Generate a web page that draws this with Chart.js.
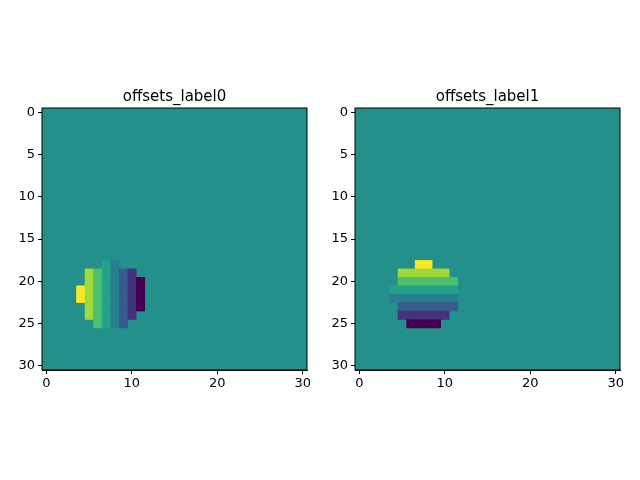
<!DOCTYPE html>
<html>
<head>
<meta charset="utf-8">
<script src="https://cdn.jsdelivr.net/npm/chart.js@4/dist/chart.umd.min.js"></script>
<style>
  body { margin: 0; background: #fff; }
  .box { position: absolute; top: 0; width: 320px; height: 480px; }
</style>
</head>
<body>
<div class="box" style="left:0"><canvas id="c0"></canvas></div>
<div class="box" style="left:320px"><canvas id="c1"></canvas></div>
<script>
// grid is 31 x 31, background value 0
const gridSize = 31;
const titles = ["offsets_label0", "offsets_label1"];
const xTicks = [0, 10, 20, 30];
const yTicks = [0, 5, 10, 15, 20, 25, 30];

// left panel: vertical strips (column, first row, last row, value)
const leftCols = [4, 5, 6, 7, 8, 9, 10, 11];
const leftRowFrom = [21, 19, 19, 18, 18, 19, 19, 20];
const leftRowTo = [22, 24, 25, 25, 25, 25, 24, 23];
const leftValues = [3.5, 2.5, 1.5, 0.5, -0.5, -1.5, -2.5, -3.5];

// right panel: horizontal strips (row, first col, last col, value)
const rightRows = [18, 19, 20, 21, 22, 23, 24, 25];
const rightColFrom = [7, 5, 5, 4, 4, 5, 5, 6];
const rightColTo = [8, 10, 11, 11, 11, 11, 10, 9];
const rightValues = [3.5, 2.5, 1.5, 0.5, -0.5, -1.5, -2.5, -3.5];

const vMin = -3.5, vMax = 3.5;

const VIRIDIS = [
    [68, 1, 84], [72, 40, 120], [62, 74, 137], [49, 104, 142], [38, 130, 142],
    [31, 158, 137], [53, 183, 121], [109, 205, 89], [180, 222, 44], [253, 231, 37]
];
function viridis(v) {
    let t = (v - vMin) / (vMax - vMin);
    t = Math.max(0, Math.min(1, t)) * (VIRIDIS.length - 1);
    const i = Math.min(Math.floor(t), VIRIDIS.length - 2), f = t - i;
    const a = VIRIDIS[i], b = VIRIDIS[i + 1];
    return 'rgb(' + a.map((c, k) => Math.round(c + (b[k] - c) * f)).join(',') + ')';
}

function buildCells(panel) {
    const cells = [];
    if (panel == 0) {
        leftCols.forEach((x, i) => {
            for (let y = leftRowFrom[i]; y <= leftRowTo[i]; y++) cells.push({ x: x, y: y, v: leftValues[i] });
        });
    } else {
        rightRows.forEach((y, i) => {
            for (let x = rightColFrom[i]; x <= rightColTo[i]; x++) cells.push({ x: x, y: y, v: rightValues[i] });
        });
    }
    return cells;
}

const heatPlugin = {
    id: 'heat',
    beforeDatasetsDraw(chart) {
        const ctx = chart.ctx, xs = chart.scales.x, ys = chart.scales.y, a = chart.chartArea;
        ctx.save();
        ctx.fillStyle = viridis(0);
        ctx.fillRect(a.left, a.top, a.right - a.left, a.bottom - a.top);
        chart.data.datasets[0].data.forEach(c => {
            const x0 = xs.getPixelForValue(c.x - 0.5), x1 = xs.getPixelForValue(c.x + 0.5);
            const y0 = ys.getPixelForValue(c.y - 0.5), y1 = ys.getPixelForValue(c.y + 0.5);
            ctx.fillStyle = viridis(c.v);
            ctx.fillRect(Math.min(x0, x1), Math.min(y0, y1), Math.abs(x1 - x0) + 0.5, Math.abs(y1 - y0) + 0.5);
        });
        ctx.strokeStyle = '#000';
        ctx.lineWidth = 1;
        ctx.strokeRect(a.left, a.top, a.right - a.left, a.bottom - a.top);
        // title centred over the plot area
        ctx.fillStyle = '#000';
        ctx.font = '15px "DejaVu Sans"';
        ctx.textAlign = 'center';
        ctx.textBaseline = 'alphabetic';
        ctx.fillText(chart.options.plotTitle, (a.left + a.right) / 2, a.top - 7);
        ctx.restore();
    }
};

function makeChart(id, panel, yWidth, padRight) {
    new Chart(document.getElementById(id), {
        type: 'scatter',
        data: { datasets: [{ data: buildCells(panel), pointRadius: 0, showLine: false }] },
        options: {
            plotTitle: titles[panel],
            responsive: true,
            maintainAspectRatio: false,
            animation: false,
            layout: { padding: { top: 108, right: padRight, left: 0, bottom: 0 } },
            plugins: {
                legend: { display: false },
                tooltip: { enabled: false },
                title: { display: false }
            },
            scales: {
                x: {
                    type: 'linear', min: -0.5, max: gridSize - 0.5,
                    afterBuildTicks: s => { s.ticks = xTicks.map(v => ({ value: v })); },
                    afterFit: s => { s.height = 110; },
                    grid: { drawOnChartArea: false, tickLength: 4, color: '#000' },
                    border: { color: '#000' },
                    ticks: { color: '#000', padding: 2, maxRotation: 0, font: { family: 'DejaVu Sans', size: 13 } }
                },
                y: {
                    type: 'linear', reverse: true, min: -0.5, max: gridSize - 0.5,
                    afterBuildTicks: s => { s.ticks = yTicks.map(v => ({ value: v })); },
                    afterFit: s => { s.width = yWidth; },
                    grid: { drawOnChartArea: false, tickLength: 4, color: '#000' },
                    border: { color: '#000' },
                    ticks: { color: '#000', padding: 3, font: { family: 'DejaVu Sans', size: 13 } }
                }
            }
        },
        plugins: [heatPlugin]
    });
}

makeChart('c0', 0, 42, 13);
makeChart('c1', 1, 35, 20);
</script>
</body>
</html>
